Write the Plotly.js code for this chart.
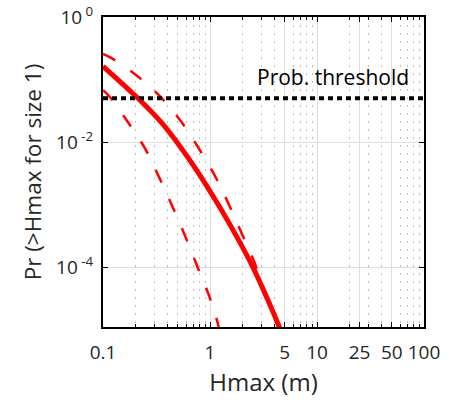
<!DOCTYPE html>
<html>
<head>
<meta charset="utf-8">
<script src="https://cdn.plot.ly/plotly-3.0.1.min.js"></script>
<style>html,body{margin:0;padding:0;background:#fff;}#chart{width:460px;height:403px;}</style>
</head>
<body>
<div id="chart"></div>
<script>
// Central estimate
const hmaxMid = [0.1, 0.2123, 0.3637, 0.4914, 0.7725, 1.188, 1.750, 2.523, 3.484, 4.415, 4.81];
const probMid = [0.1626, 0.0500, 0.01919, 0.00989, 0.003273, 0.001007, 3.21e-4, 9.89e-5, 2.93e-5, 1.125e-5, 7.78e-6];
// Upper bound (dashed)
const hmaxUp = [0.1, 0.118, 0.209, 0.346, 0.544, 0.778, 1.114, 1.483, 1.977, 2.594, 3.243, 4.0, 4.7];
const probUp = [0.257, 0.224, 0.1138, 0.0525, 0.02065, 0.00813, 0.00286, 0.001047, 3.46e-4, 1.2e-4, 4.13e-5, 1.6e-5, 8e-6];
// Lower bound (dashed)
const hmaxLow = [0.1, 0.1138, 0.1714, 0.2483, 0.3357, 0.4477, 0.5875, 0.7568, 0.9795, 1.180, 1.25];
const probLow = [0.0676, 0.0545, 0.02065, 0.00776, 0.00269, 9.12e-4, 3.09e-4, 1.047e-4, 3.48e-5, 1.27e-5, 8e-6];
// Probability threshold
const thresholdX = [0.1, 100];
const thresholdP = [0.05, 0.05];
// Axis ticks
const xTickVals = [0.1, 1, 5, 10, 25, 50, 100];
const xTickText = ['0.1', '1', '5', '10', '25', '50', '100'];
const xMinorVals = [0.2,0.3,0.4,0.5,0.6,0.7,0.8,0.9, 2,3,4,6,7,8,9, 20,30,40,60,70,80,90];
const yTickVals = [1, 0.01, 0.0001];
const yTickText = ['10<sup> 0</sup>', '10<sup> -2</sup>', '10<sup> -4</sup>'];

const FONT = '"Open Sans", "Noto Sans", sans-serif';
const TXT = '#262626';
const red = '#ff0000';

const traces = [
  {x: hmaxUp, y: probUp, mode: 'lines', line: {color: red, width: 2.5, dash: '14px,18px', shape: 'spline'}, hoverinfo: 'skip'},
  {x: hmaxLow, y: probLow, mode: 'lines', line: {color: red, width: 2.5, dash: '14px,18px', shape: 'spline'}, hoverinfo: 'skip'},
  {x: hmaxMid, y: probMid, mode: 'lines', line: {color: red, width: 5, shape: 'spline'}, hoverinfo: 'skip'},
  {x: thresholdX, y: thresholdP, mode: 'lines', line: {color: '#000', width: 4, dash: '5px,4px'}, hoverinfo: 'skip'}
];

const layout = {
  width: 460, height: 403,
  margin: {l: 103, r: 36, t: 17, b: 76},
  paper_bgcolor: '#fff', plot_bgcolor: '#fff',
  showlegend: false,
  font: {family: FONT, size: 19, color: TXT},
  xaxis: {
    type: 'log', range: [-1, 2],
    tickmode: 'array', tickvals: xTickVals, ticktext: xTickText,
    ticks: 'inside', ticklen: 5, tickcolor: '#000', tickwidth: 1,
    showline: true, linecolor: '#000', linewidth: 2, mirror: 'allticks',
    showgrid: true, gridcolor: '#dedede', gridwidth: 1, zeroline: false,
    tickfont: {family: FONT, size: 19, color: TXT},
    ticklabelstandoff: 7,
    minor: {tickmode: 'array', tickvals: xMinorVals, ticks: 'inside', ticklen: 3, tickcolor: '#000',
            showgrid: true, gridcolor: '#bdbdbd', griddash: '2px,6px', gridwidth: 1},
    title: {text: 'Hmax (m)', font: {family: FONT, size: 24, color: TXT}, standoff: 8}
  },
  yaxis: {
    type: 'log', range: [-4.96, 0],
    tickmode: 'array', tickvals: yTickVals, ticktext: yTickText,
    ticks: 'inside', ticklen: 5, tickcolor: '#000', tickwidth: 1,
    showline: true, linecolor: '#000', linewidth: 2, mirror: 'allticks',
    showgrid: true, gridcolor: '#dedede', gridwidth: 1, zeroline: false,
    tickfont: {family: FONT, size: 19, color: TXT},
    ticklabelstandoff: 4,
    title: {text: 'Pr (>Hmax for size 1)', font: {family: FONT, size: 22.5, color: TXT}, standoff: 8}
  },
  annotations: [{
    text: 'Prob. threshold', xref: 'paper', x: 0.958, xanchor: 'right',
    yref: 'y', y: Math.log10(thresholdP[0]), yanchor: 'bottom', yshift: 5,
    showarrow: false, font: {family: FONT, size: 21, color: '#000'}
  }]
};

Plotly.newPlot('chart', traces, layout, {staticPlot: true, displayModeBar: false});
</script>
</body>
</html>
